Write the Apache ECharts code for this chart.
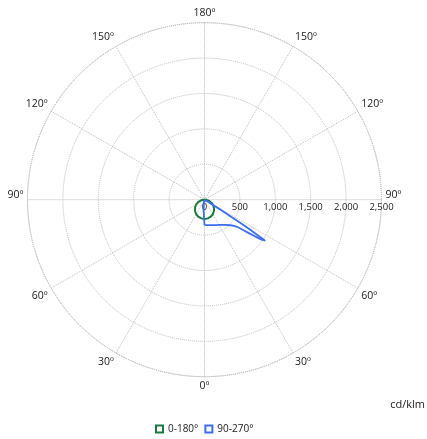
<!DOCTYPE html>
<html>
<head>
<meta charset="utf-8">
<script src="https://cdn.jsdelivr.net/npm/echarts@6/dist/echarts.min.js"></script>
<style>
html,body{margin:0;padding:0;background:#fff;}
#chart{width:427px;height:439px;}
</style>
</head>
<body>
<div id="chart"></div>
<script>
// Gamma angles (degrees, 0 = straight down, 180 = straight up)
const gamma = [0,5,10,15,20,25,30,35,40,45,48,50,51,52,53,54,55,56,57,58,59,60,62,65,70,75,80,85,90,100,110,120,130,140,150,160,170,180];
// Intensities in cd/klm
const c0   = [272,271,268,263,256,247,236,223,208,192,182,175,171,167,164,160,156,152,148,144,140,136,127,115,93,71,48,26,8,2,0,0,0,0,0,0,0,0];
const c180 = [272,271,268,263,256,247,236,223,208,192,182,175,171,167,164,160,156,152,148,144,140,136,127,115,93,71,48,26,8,2,0,0,0,0,0,0,0,0];
const c90  = [358,360,365,372,382,395,412,435,465,510,550,590,635,700,785,880,985,1035,700,300,80,30,15,8,4,2,1,0,0,0,0,0,0,0,0,0,0,0];
const c270 = [358,150,60,30,15,8,5,3,2,1,1,1,1,1,1,1,1,1,1,1,1,1,0,0,0,0,0,0,0,0,0,0,0,0,0,0,0,0];
const seriesNames = ['0-180°', '90-270°'];
const seriesColors = ['#1b7a3e', '#3b6ef0'];
const radiusTicks = [0, 500, 1000, 1500, 2000, 2500];
const unitLabel = 'cd/klm';

const FONT = '"Open Sans", "Noto Sans", sans-serif';
const GRID = '#bdbdbd';
const TXT = '#222';

// right half: angle-axis value = 90 - gamma (clockwise from east); left half: 90 + gamma
function halfPlane(rightVals, leftVals) {
  const pts = [];
  for (let i = 0; i < gamma.length; i++) {
    pts.push([rightVals[i], (450 - gamma[i]) % 360]);
  }
  for (let i = gamma.length - 1; i >= 0; i--) {
    pts.push([leftVals[i], (90 + gamma[i]) % 360]);
  }
  return pts;
}

function gammaLabel(v) {
  let g;
  if (v <= 90) g = 90 - v;
  else if (v <= 270) g = v - 90;
  else g = 450 - v;
  return g;
}

const chart = echarts.init(document.getElementById('chart'), null, {renderer: 'canvas'});
const option = {
  animation: false,
  backgroundColor: '#fff',
  textStyle: {fontFamily: FONT},
  title: {
    text: unitLabel,
    right: 2,
    top: 399,
    padding: 0,
    textStyle: {fontSize: 11, fontWeight: 'normal', color: TXT, fontFamily: FONT}
  },
  legend: {
    left: 150,
    top: 419,
    icon: 'rect',
    itemWidth: 7,
    itemHeight: 7,
    itemGap: 6,
    textStyle: {fontSize: 10, color: TXT, fontFamily: FONT},
    data: seriesNames.map((n, i) => ({
      name: n,
      itemStyle: {color: '#fff', borderColor: seriesColors[i], borderWidth: 2}
    }))
  },
  polar: {
    center: [204.5, 199.7],
    radius: 177
  },
  angleAxis: {
    type: 'value',
    min: 0,
    max: 360,
    interval: 30,
    startAngle: 0,
    clockwise: true,
    axisLine: {show: true, lineStyle: {color: GRID, type: 'dotted', width: 1}},
    axisTick: {show: false},
    splitLine: {show: true, lineStyle: {color: GRID, type: 'dotted', width: 1}},
    axisLabel: {
      margin: 4,
      fontSize: 10.5,
      color: TXT,
      fontFamily: FONT,
      formatter: function (v) {
        const g = gammaLabel(v);
        if (v === 0 || v === 180 || v === 360) return '{up|' + g + 'º}';
        return g + 'º';
      },
      rich: {
        up: {padding: [0, 0, 10, 0], fontSize: 10.5, color: TXT, fontFamily: FONT}
      }
    }
  },
  radiusAxis: {
    type: 'value',
    min: radiusTicks[0],
    max: radiusTicks[radiusTicks.length - 1],
    interval: 500,
    axisLine: {show: false},
    axisTick: {show: false},
    splitLine: {show: true, lineStyle: {color: GRID, type: 'dotted', width: 1}},
    axisLabel: {
      margin: -3,
      verticalAlign: 'top',
      fontSize: 9.5,
      color: TXT,
      fontFamily: FONT,
      formatter: function (v) { return v.toLocaleString('en-US'); }
    }
  },
  series: [
    {
      name: seriesNames[0],
      type: 'line',
      coordinateSystem: 'polar',
      showSymbol: false,
      symbol: 'none',
      smooth: false,
      lineStyle: {color: seriesColors[0], width: 2},
      itemStyle: {color: seriesColors[0]},
      data: halfPlane(c0, c180)
    },
    {
      name: seriesNames[1],
      type: 'line',
      coordinateSystem: 'polar',
      showSymbol: false,
      symbol: 'none',
      smooth: false,
      lineStyle: {color: seriesColors[1], width: 1.8},
      itemStyle: {color: seriesColors[1]},
      data: halfPlane(c90, c270)
    }
  ]
};
chart.setOption(option);
</script>
</body>
</html>
